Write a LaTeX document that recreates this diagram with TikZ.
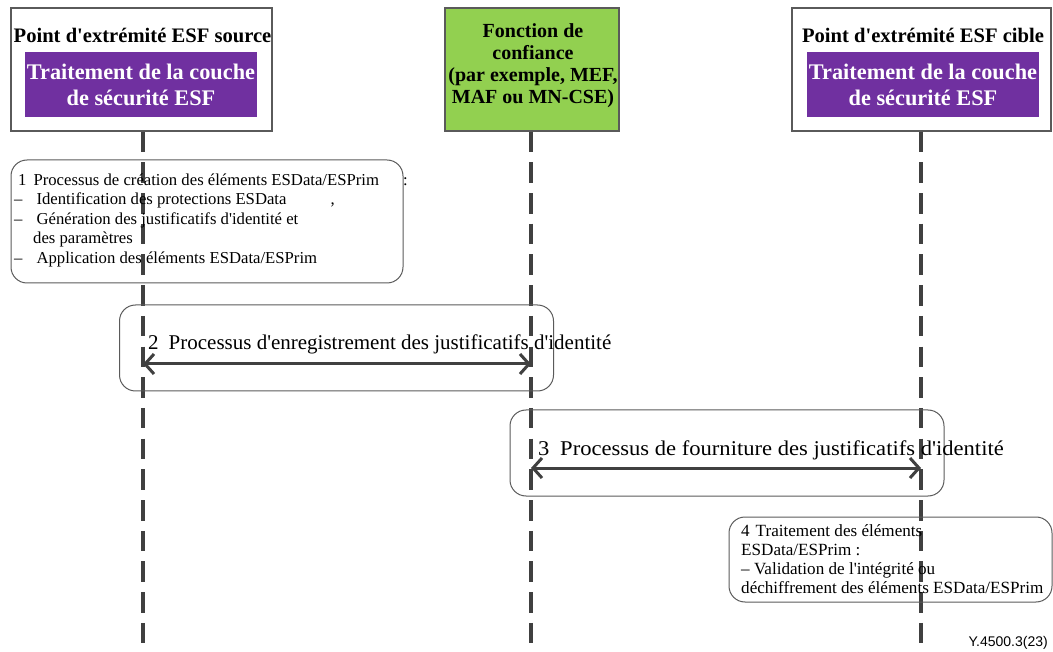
\documentclass[tikz,border=0pt]{standalone}
\usepackage{fontspec}
\newfontfamily\tnr{Liberation Serif}
\newfontfamily\arl{Liberation Sans}
\usetikzlibrary{arrows.meta}
\definecolor{layerpurple}{HTML}{7030A0}
\definecolor{trustgreen}{HTML}{92D050}
\definecolor{lifegray}{HTML}{404040}
\definecolor{framegray}{HTML}{5A5A5A}

\begin{document}
\begin{tikzpicture}[x=1pt,y=-1pt,
  endpoint/.style={draw=framegray,line width=1.3pt,fill=white,
    minimum width=#1,minimum height=123pt,inner sep=0pt},
  trustbox/.style={draw=framegray,line width=1.3pt,fill=trustgreen,
    minimum width=174pt,minimum height=123pt,inner sep=0pt},
  trusttext/.style={inner sep=0pt,align=center,
    font=\tnr\bfseries\fontsize{20}{22}\selectfont},
  headtext/.style={inner sep=0pt,anchor=base,
    font=\tnr\bfseries\fontsize{20.6}{24}\selectfont},
  layerbox/.style={fill=layerpurple,text=white,minimum width=232pt,
    minimum height=65pt,inner sep=0pt,align=center,
    font=\tnr\bfseries\fontsize{22.3}{26}\selectfont},
  lifeline/.style={draw=lifegray,line width=3.4pt,dash pattern=on 20.5pt off 10.2pt},
  msgarrow/.style={draw=lifegray,line width=3pt,
    {Straight Barb[length=9pt,width=20pt]}-{Straight Barb[length=9pt,width=20pt]}},
  notebox/.style={draw=framegray,line width=1pt,rounded corners=16pt,
    inner sep=0pt},
  notetext/.style={inner sep=0pt,anchor=north west,align=left,
    font=\tnr\fontsize{16.7}{19.5}\selectfont},
  msgtext/.style={inner sep=0pt,anchor=base west,
    font=\tnr\fontsize{21}{24}\selectfont}
]
\useasboundingbox (0,0) rectangle (1053,652);

% lifeline ends
\coordinate (srcEnd) at (143,643);
\coordinate (trustEnd) at (531,643);
\coordinate (dstEnd) at (921,643);

% participants
\node[endpoint=261pt] (src) at (141.5,69.5) {};
\node[headtext] (srcTitle) at (142.5,42.5) {Point d'extrémité ESF source};
\node[layerbox] (srcLayer) at (141,84.5) {Traitement de la couche\\de sécurité ESF};

\node[trustbox] (trust) at (532,69.5) {};
\node[trusttext] (trustText) at (533,65.5)
  {Fonction de\\confiance\\(par exemple, MEF,\\MAF ou MN-CSE)};

\node[endpoint=259pt] (dst) at (921.5,69.5) {};
\node[headtext] (dstTitle) at (923,42.5) {Point d'extrémité ESF cible};
\node[layerbox] (dstLayer) at (923,84.5) {Traitement de la couche\\de sécurité ESF};

% lifelines
\draw[lifeline] (srcEnd |- src.south) -- (srcEnd);
\draw[lifeline] (trustEnd |- trust.south) -- (trustEnd);
\draw[lifeline] (dstEnd |- dst.south) -- (dstEnd);

% step 1
\node[notebox,minimum width=392pt,minimum height=123pt] (step1) at (207,221.5) {};
\node[notetext] (step1Text) at (14,173.5)
  {\hspace*{4pt}1\hspace{7pt}Processus de création des éléments ESData/ESPrim\hspace{24pt}:\\
   –\hspace{14pt}Identification des protections ESData\hspace{44pt},\\
   –\hspace{14pt}Génération des justificatifs d'identité et\\
   \hspace*{19pt}des paramètres\\
   –\hspace{14pt}Application des éléments ESData/ESPrim};

% step 2
\node[notebox,minimum width=434pt,minimum height=86pt] (step2) at (336.5,348) {};
\node[msgtext] (step2Text) at (148,350)
  {2\hspace{10pt}Processus d'enregistrement des justificatifs d'identité};
\coordinate (m2a) at (143,364);
\coordinate (m2b) at (531,364);
\draw[msgarrow] (m2a) -- (m2b);

% step 3
\node[notebox,minimum width=434pt,minimum height=86pt] (step3) at (727,453) {};
\node[msgtext] (step3Text) at (538,456)
  {\scalebox{1.075}[1]{3\hspace{10pt}Processus de fourniture des justificatifs d'identité}};
\coordinate (m3a) at (531,468);
\coordinate (m3b) at (921,468);
\draw[msgarrow] (m3a) -- (m3b);

% step 4
\node[notebox,minimum width=323pt,minimum height=85pt] (step4) at (890.5,559.5) {};
\node[notetext,font=\tnr\fontsize{17.1}{19}\selectfont] (step4Text) at (741,524)
  {4\hspace{6pt}Traitement des éléments\\
   ESData/ESPrim :\\
   – Validation de l'intégrité ou\\
   déchiffrement des éléments ESData/ESPrim};

% figure reference
\node[inner sep=0pt,anchor=base east,font=\arl\fontsize{14}{16}\selectfont]
  (figRef) at (1048,646) {Y.4500.3(23)};
\end{tikzpicture}
\end{document}
